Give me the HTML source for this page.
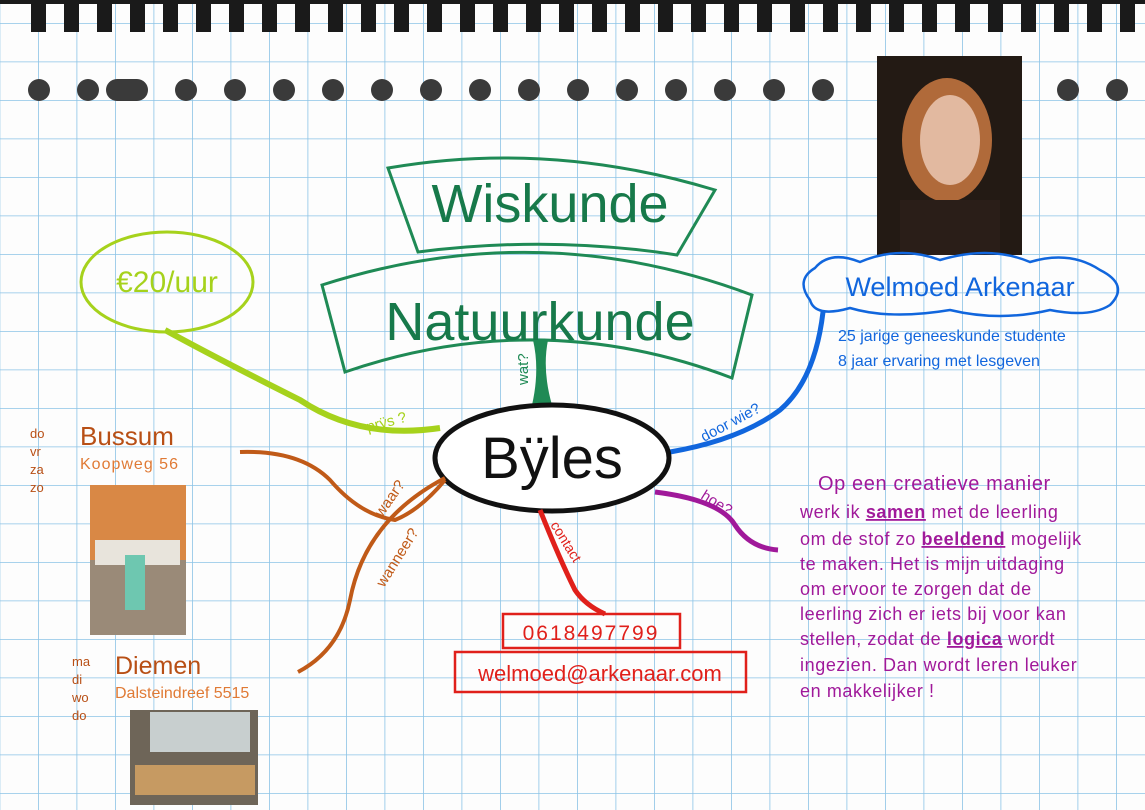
<!DOCTYPE html>
<html><head><meta charset="utf-8"><style>
html,body{margin:0;padding:0;background:#fff}
svg{display:block}
text{font-family:"Liberation Sans",sans-serif}
</style></head><body>
<svg width="1145" height="810" viewBox="0 0 1145 810" xmlns="http://www.w3.org/2000/svg">
<defs>
<pattern id="g" x="38" y="23" width="38.5" height="38.5" patternUnits="userSpaceOnUse">
<path d="M0 0H38.5M0 0V38.5" stroke="#8cc3e6" stroke-width="1.6" fill="none"/>
</pattern>
</defs>
<rect width="1145" height="810" fill="#fdfdfd"/>
<rect width="1145" height="810" fill="url(#g)"/>
<g fill="#1a1a1a">
<rect x="0" y="0" width="1145" height="4"/>
<rect x="31" y="4" width="15" height="28"/><rect x="64" y="4" width="15" height="28"/><rect x="97" y="4" width="15" height="28"/><rect x="130" y="4" width="15" height="28"/><rect x="163" y="4" width="15" height="28"/><rect x="196" y="4" width="15" height="28"/><rect x="229" y="4" width="15" height="28"/><rect x="262" y="4" width="15" height="28"/><rect x="295" y="4" width="15" height="28"/><rect x="328" y="4" width="15" height="28"/><rect x="361" y="4" width="15" height="28"/><rect x="394" y="4" width="15" height="28"/><rect x="427" y="4" width="15" height="28"/><rect x="460" y="4" width="15" height="28"/><rect x="493" y="4" width="15" height="28"/><rect x="526" y="4" width="15" height="28"/><rect x="559" y="4" width="15" height="28"/><rect x="592" y="4" width="15" height="28"/><rect x="625" y="4" width="15" height="28"/><rect x="658" y="4" width="15" height="28"/><rect x="691" y="4" width="15" height="28"/><rect x="724" y="4" width="15" height="28"/><rect x="757" y="4" width="15" height="28"/><rect x="790" y="4" width="15" height="28"/><rect x="823" y="4" width="15" height="28"/><rect x="856" y="4" width="15" height="28"/><rect x="889" y="4" width="15" height="28"/><rect x="922" y="4" width="15" height="28"/><rect x="955" y="4" width="15" height="28"/><rect x="988" y="4" width="15" height="28"/><rect x="1021" y="4" width="15" height="28"/><rect x="1054" y="4" width="15" height="28"/><rect x="1087" y="4" width="15" height="28"/><rect x="1120" y="4" width="15" height="28"/>
</g>
<g fill="#3a3a3a">
<ellipse cx="39" cy="90" rx="11" ry="11"/><ellipse cx="88" cy="90" rx="11" ry="11"/><rect x="106" y="79" width="42" height="22" rx="11"/><ellipse cx="186" cy="90" rx="11" ry="11"/><ellipse cx="235" cy="90" rx="11" ry="11"/><ellipse cx="284" cy="90" rx="11" ry="11"/><ellipse cx="333" cy="90" rx="11" ry="11"/><ellipse cx="382" cy="90" rx="11" ry="11"/><ellipse cx="431" cy="90" rx="11" ry="11"/><ellipse cx="480" cy="90" rx="11" ry="11"/><ellipse cx="529" cy="90" rx="11" ry="11"/><ellipse cx="578" cy="90" rx="11" ry="11"/><ellipse cx="627" cy="90" rx="11" ry="11"/><ellipse cx="676" cy="90" rx="11" ry="11"/><ellipse cx="725" cy="90" rx="11" ry="11"/><ellipse cx="774" cy="90" rx="11" ry="11"/><ellipse cx="823" cy="90" rx="11" ry="11"/><ellipse cx="1068" cy="90" rx="11" ry="11"/><ellipse cx="1117" cy="90" rx="11" ry="11"/>
</g>
<rect x="877" y="56" width="145" height="199" fill="#231a14"/>
<ellipse cx="947" cy="140" rx="45" ry="62" fill="#b06a3a"/>
<ellipse cx="950" cy="140" rx="30" ry="45" fill="#e2b9a0"/>
<rect x="900" y="200" width="100" height="55" fill="#2a1e18"/>
<g fill="none" stroke="#1f8a55" stroke-width="3">
<path d="M388 168 Q550 140 715 190 L677 255 Q550 235 418 252 Z"/>
<path d="M322 285 Q540 215 752 295 L732 378 Q540 305 345 372 Z"/>
</g>
<path d="M533 340 Q540 370 532 405 L552 405 Q542 370 548 340 Z" fill="#1f8a55"/>
<text x="550" y="222" font-size="54" fill="#17794a" text-anchor="middle">Wiskunde</text>
<text x="540" y="340" font-size="54" fill="#17794a" text-anchor="middle">Natuurkunde</text>
<text transform="translate(528,385) rotate(-90)" font-size="15" fill="#1f8a55">wat?</text>
<ellipse cx="167" cy="282" rx="86" ry="50" fill="none" stroke="#a6d21c" stroke-width="3"/>
<text x="167" y="292" font-size="30" fill="#a6d21c" text-anchor="middle">€20/uur</text>
<path d="M165 330 Q220 360 300 400 Q360 440 440 428" fill="none" stroke="#a6d21c" stroke-width="6"/>
<text transform="translate(368,432) rotate(-15)" font-size="15" fill="#a6d21c">prÿs ?</text>
<path d="M810 300 Q795 280 815 268 Q830 250 860 262 Q900 245 940 260 Q990 245 1030 262 Q1070 250 1100 270 Q1130 285 1110 305 Q1090 318 1050 310 Q1000 322 950 310 Q890 320 850 308 Q815 318 810 300 Z" fill="none" stroke="#1166dd" stroke-width="2.5"/>
<text x="960" y="296" font-size="27" fill="#1166dd" text-anchor="middle">Welmoed Arkenaar</text>
<text x="838" y="341" font-size="16" fill="#1166dd">25 jarige geneeskunde studente</text>
<text x="838" y="366" font-size="16" fill="#1166dd">8 jaar ervaring met lesgeven</text>
<path d="M823 312 Q815 380 780 410 Q740 440 670 452" fill="none" stroke="#1166dd" stroke-width="5"/>
<text transform="translate(704,442) rotate(-28)" font-size="15" fill="#1166dd">door wie?</text>
<ellipse cx="552" cy="458" rx="117" ry="53" fill="#fff" stroke="#111" stroke-width="5"/>
<text x="552" y="478" font-size="58" fill="#111" text-anchor="middle">Bÿles</text>
<path d="M655 492 Q720 500 735 525 Q750 548 778 550" fill="none" stroke="#a0199a" stroke-width="5"/>
<text transform="translate(700,498) rotate(32)" font-size="15" fill="#a0199a">hoe?</text>
<g font-size="18" fill="#a0199a" letter-spacing="0.6">
<text x="818" y="490" font-size="20">Op een creatieve manier</text>
<text x="800" y="518">werk ik <tspan font-weight="bold" text-decoration="underline">samen</tspan> met de leerling</text>
<text x="800" y="545">om de stof zo <tspan font-weight="bold" text-decoration="underline">beeldend</tspan> mogelijk</text>
<text x="800" y="570">te maken. Het is mijn uitdaging</text>
<text x="800" y="595">om ervoor te zorgen dat de</text>
<text x="800" y="620">leerling zich er iets bij voor kan</text>
<text x="800" y="645">stellen, zodat de <tspan font-weight="bold" text-decoration="underline">logica</tspan> wordt</text>
<text x="800" y="671">ingezien. Dan wordt leren leuker</text>
<text x="800" y="697">en makkelijker !</text>
</g>
<path d="M540 510 Q560 560 575 590 Q585 605 605 614" fill="none" stroke="#e0201b" stroke-width="5"/>
<text transform="translate(550,525) rotate(58)" font-size="14" fill="#e0201b">contact</text>
<rect x="503" y="614" width="177" height="34" fill="none" stroke="#e0201b" stroke-width="2.5"/>
<text x="591" y="640" font-size="21" fill="#e0201b" text-anchor="middle" letter-spacing="2">0618497799</text>
<rect x="455" y="652" width="291" height="40" fill="none" stroke="#e0201b" stroke-width="2.5"/>
<text x="600" y="681" font-size="22" fill="#e0201b" text-anchor="middle">welmoed@arkenaar.com</text>
<path d="M240 452 Q300 450 330 480 Q360 515 395 520 Q420 510 445 480" fill="none" stroke="#c05a18" stroke-width="4"/>
<path d="M298 672 Q340 650 350 600 Q365 520 445 478" fill="none" stroke="#c05a18" stroke-width="4"/>
<text transform="translate(382,518) rotate(-55)" font-size="15" fill="#c05a18">waar?</text>
<text transform="translate(384,588) rotate(-58)" font-size="15" fill="#c05a18">wanneer?</text>
<text x="80" y="445" font-size="26" fill="#b84f15">Bussum</text>
<text x="80" y="469" font-size="16" fill="#e07a35" letter-spacing="1">Koopweg 56</text>
<g font-size="13" fill="#b84f15"><text x="30" y="438">do</text><text x="30" y="456">vr</text><text x="30" y="474">za</text><text x="30" y="492">zo</text>
<text x="72" y="666">ma</text><text x="72" y="684">di</text><text x="72" y="702">wo</text><text x="72" y="720">do</text></g>
<text x="115" y="674" font-size="25" fill="#b84f15">Diemen</text>
<text x="115" y="698" font-size="16" fill="#e07a35">Dalsteindreef 5515</text>
<rect x="90" y="485" width="96" height="150" fill="#d98845"/>
<rect x="90" y="560" width="96" height="75" fill="#9a8a78"/>
<rect x="95" y="540" width="85" height="25" fill="#e8e4dc"/>
<rect x="125" y="555" width="20" height="55" fill="#6ec7b0"/>
<rect x="130" y="710" width="128" height="95" fill="#6e6558"/>
<rect x="150" y="712" width="100" height="40" fill="#c8cfcf"/>
<rect x="135" y="765" width="120" height="30" fill="#c69a62"/>
</svg>
</body></html>
